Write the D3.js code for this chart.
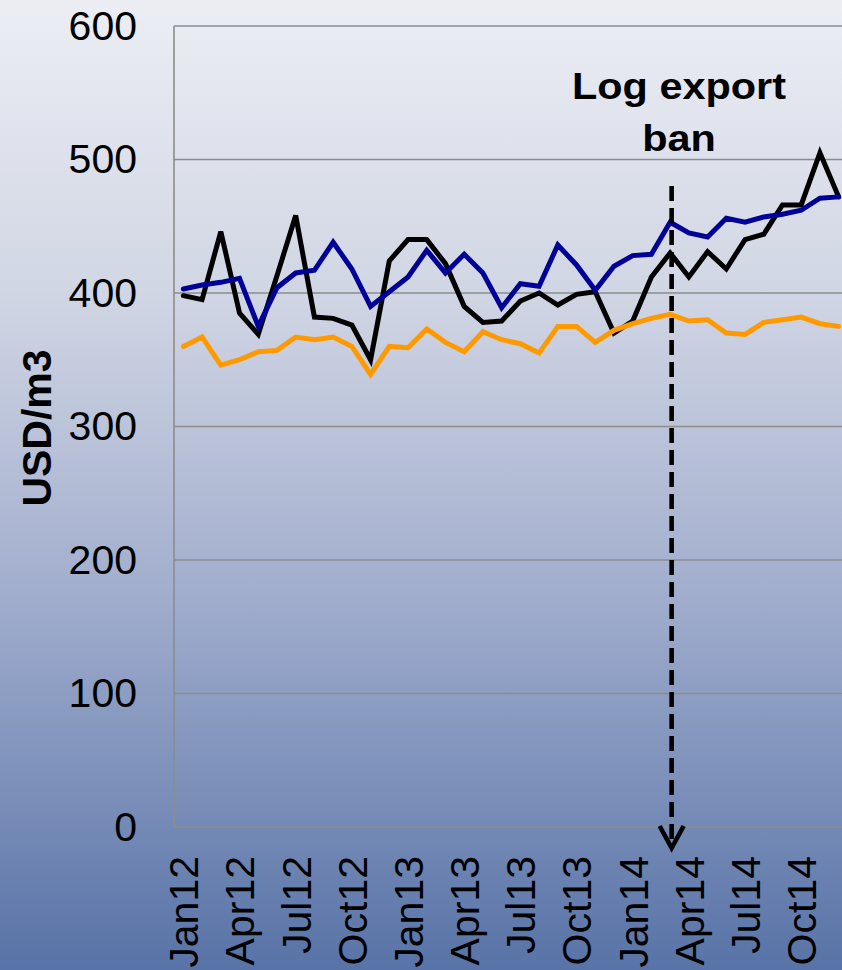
<!DOCTYPE html>
<html>
<head>
<meta charset="utf-8">
<script src="https://cdn.jsdelivr.net/npm/d3@7"></script>
<style>
  html, body { margin: 0; padding: 0; background: #ffffff; }
  svg { display: block; font-family: "Liberation Sans", Arial, sans-serif; }
</style>
</head>
<body>
<div id="chart"></div>
<script>
// ---- data ----
const months = [
  "Jan12","Feb12","Mar12","Apr12","May12","Jun12","Jul12","Aug12","Sep12","Oct12","Nov12","Dec12",
  "Jan13","Feb13","Mar13","Apr13","May13","Jun13","Jul13","Aug13","Sep13","Oct13","Nov13","Dec13",
  "Jan14","Feb14","Mar14","Apr14","May14","Jun14","Jul14","Aug14","Sep14","Oct14","Nov14","Dec14"
];
const tickLabels = ["Jan12","Apr12","Jul12","Oct12","Jan13","Apr13","Jul13","Oct13","Jan14","Apr14","Jul14","Oct14"];
const yTicks = [0, 100, 200, 300, 400, 500, 600];

const seriesBlack = [398,395,446,385,369,413,458,382,381,376,350,424,
                     440,440,422,390,378,379,394,400,391,399,401,370,
                     379,412,430,412,431,418,440,444,466,466,505,472];
const seriesBlue  = [403,406,408,411,375,404,415,417,438,418,390,401,
                     412,432,415,429,415,389,407,405,436,421,402,420,
                     428,429,453,445,442,456,453,457,459,462,471,472];
const seriesOrange= [360,367,346,350,356,357,367,365,367,360,339,360,
                     359,373,363,356,371,365,362,355,375,375,363,372,
                     377,381,384,379,380,370,369,378,380,382,377,375];

const yTitle = "USD/m3";
const annotationLines = ["Log export", "ban"];
const annotationMonth = "Mar14";

// ---- layout ----
const W = 842, H = 970;
const plot = { left: 174, right: 848, top: 26, bottom: 827 };

const svg = d3.select("#chart").append("svg")
  .attr("width", W).attr("height", H);

const defs = svg.append("defs");
const grad = defs.append("linearGradient").attr("id", "bg")
  .attr("x1", 0).attr("y1", 0).attr("x2", 0).attr("y2", 1);
grad.append("stop").attr("offset", "0%").attr("stop-color", "#eceef4");
grad.append("stop").attr("offset", "30%").attr("stop-color", "#d1d6e4");
grad.append("stop").attr("offset", "60%").attr("stop-color", "#a3afce");
grad.append("stop").attr("offset", "100%").attr("stop-color", "#5873a7");

svg.append("rect").attr("width", W).attr("height", H).attr("fill", "url(#bg)");

const x = d3.scalePoint().domain(months).range([plot.left, plot.right]).padding(0.5);
const y = d3.scaleLinear().domain([0, 600]).range([plot.bottom, plot.top]);

// gridlines
svg.append("g").selectAll("line").data(yTicks.filter(d => d > 0)).join("line")
  .attr("x1", plot.left).attr("x2", plot.right)
  .attr("y1", d => y(d)).attr("y2", d => y(d))
  .attr("stroke", "#8c8c8c").attr("stroke-width", 1.6);

// plot border (left + bottom)
svg.append("line").attr("x1", plot.left).attr("x2", plot.left)
  .attr("y1", plot.top).attr("y2", plot.bottom)
  .attr("stroke", "#8c8c8c").attr("stroke-width", 1.6);
svg.append("line").attr("x1", plot.left).attr("x2", plot.right)
  .attr("y1", plot.bottom).attr("y2", plot.bottom)
  .attr("stroke", "#8c8c8c").attr("stroke-width", 1.6);

// y axis labels
const yAxis = d3.axisLeft(y).tickValues(yTicks).tickSize(0).tickPadding(37);
const gy = svg.append("g").attr("transform", `translate(${plot.left},0)`).call(yAxis);
gy.select(".domain").remove();
gy.selectAll("text").attr("font-size", 41).attr("fill", "#000")
  .attr("font-family", "'Liberation Sans', Arial, sans-serif");

// x axis labels (rotated)
const xAxis = d3.axisBottom(x).tickValues(tickLabels).tickSize(0);
const gx = svg.append("g").attr("transform", `translate(0,${plot.bottom})`).call(xAxis);
gx.select(".domain").remove();
gx.selectAll("text")
  .attr("font-size", 41).attr("fill", "#000")
  .attr("font-family", "'Liberation Sans', Arial, sans-serif")
  .attr("text-anchor", "end")
  .attr("transform", "rotate(-90)")
  .attr("x", -29).attr("y", 0).attr("dy", "0.35em");

// y title
svg.append("text")
  .attr("transform", `translate(51,428) rotate(-90)`)
  .attr("text-anchor", "middle")
  .attr("font-size", 41).attr("font-weight", "bold").attr("fill", "#000")
  .text(yTitle);

// lines
const line = d3.line().x((d, i) => x(months[i])).y(d => y(d));
const series = [
  { data: seriesBlack, color: "#000000" },
  { data: seriesOrange, color: "#ff9900" },
  { data: seriesBlue, color: "#000099" }
];
svg.append("g").selectAll("path").data(series).join("path")
  .attr("d", d => line(d.data))
  .attr("fill", "none")
  .attr("stroke", d => d.color)
  .attr("stroke-width", 5)
  .attr("stroke-linejoin", "miter")
  .attr("stroke-miterlimit", 4)
  .attr("stroke-linecap", "round");

// annotation
const ax = x(annotationMonth) + 1.5;
svg.append("line")
  .attr("x1", ax).attr("x2", ax).attr("y1", 186).attr("y2", 846)
  .attr("stroke", "#000").attr("stroke-width", 4.6)
  .attr("stroke-dasharray", "15,7");
svg.append("polyline")
  .attr("points", `${ax-12},826 ${ax},848 ${ax+12},826`)
  .attr("fill", "none").attr("stroke", "#000").attr("stroke-width", 4.6)
  .attr("stroke-linejoin", "miter");

const ag = svg.append("g").attr("transform", `translate(679,0) scale(1.12,1)`);
ag.selectAll("text").data(annotationLines).join("text")
  .attr("x", 0).attr("y", (d, i) => 99 + i * 52.5)
  .attr("text-anchor", "middle")
  .attr("font-size", 37).attr("font-weight", "bold").attr("fill", "#000")
  .text(d => d);
</script>
</body>
</html>
